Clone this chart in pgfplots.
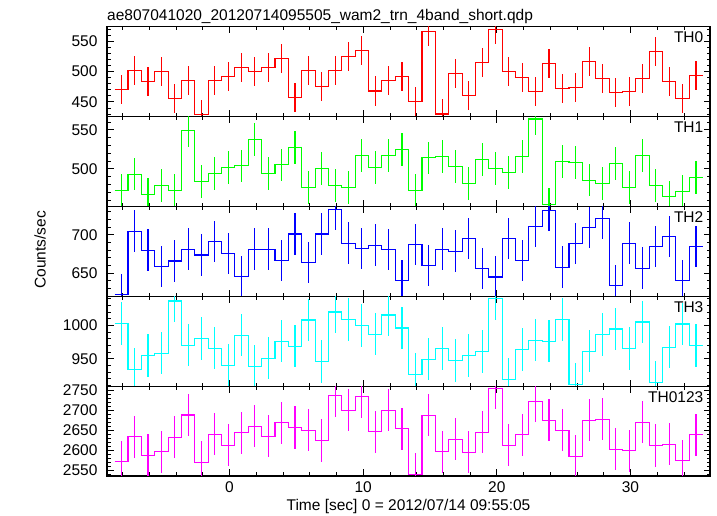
\documentclass[border=0pt]{standalone}
\usepackage{pgfplots}
\pgfplotsset{compat=1.18}
\usepackage{pgfplotstable}
\usepackage{fontspec}
\setmainfont{Liberation Sans}
\newcommand{\ff}{\fontsize{15.5}{18}\selectfont}
\definecolor{cR}{rgb}{1,0,0}
\definecolor{cG}{rgb}{0,1,0}
\definecolor{cB}{rgb}{0,0,1}
\definecolor{cC}{rgb}{0,1,1}
\definecolor{cM}{rgb}{1,0,1}

% xl = left edge of 1-s bin; last row closes the final bin
\pgfplotstableread{
xl    th0    th1    th2    th3     th0123
-8.6  471.0  472.6  622.2  1002.5  2570.8
-7.6  502.0  493.2  704.8  933.5   2634.0
-6.6  483.0  467.0  680.0  954.5   2586.7
-5.6  499.5  478.6  658.7  958.5   2595.8
-4.6  455.7  472.6  665.7  1036.5  2632.5
-3.6  485.8  548.7  681.3  970.5   2688.3
-2.6  429.0  484.2  673.5  980.5   2570.0
-1.6  485.0  494.4  691.3  966.0   2640.0
-0.6  492.0  502.0  675.7  940.5   2612.5
0.4   507.0  503.8  645.7  985.5   2643.3
1.4   500.0  538.0  681.3  939.0   2660.0
2.4   507.0  494.4  681.3  951.0   2635.0
3.4   521.0  505.0  666.0  976.5   2669.0
4.4   457.0  527.8  700.9  969.0   2656.7
5.4   502.0  476.5  663.5  1008.0  2650.0
6.4   476.0  500.0  700.9  945.5   2624.0
7.4   502.0  479.0  733.5  1020.0  2736.7
8.4   525.0  476.5  689.0  1008.5  2700.0
9.4   535.0  517.5  682.2  999.5   2735.0
10.4  468.0  502.0  686.5  987.0   2645.8
11.4  484.7  516.7  680.9  1015.5  2700.0
12.4  492.0  524.4  640.4  996.0   2654.0
13.4  450.8  472.2  687.4  927.0   2539.2
14.4  566.0  514.0  659.6  949.5   2687.5
15.4  430.0  516.2  681.3  965.0   2595.8
16.4  496.7  502.6  678.7  947.0   2627.5
17.4  460.7  481.6  695.2  955.0   2595.0
18.4  514.8  512.4  655.7  961.0   2645.0
19.4  569.4  500.9  644.8  1040.0  2755.8
20.4  499.5  495.7  695.2  919.0   2612.5
21.4  490.7  515.4  666.0  964.0   2639.0
22.4  467.8  564.0  711.3  978.0   2723.3
23.4  512.6  454.7  731.7  976.5   2675.0
24.4  472.0  509.4  657.8  1009.0  2650.0
25.4  474.0  508.0  688.3  912.0   2585.0
26.4  517.0  485.5  709.6  961.5   2675.0
27.4  489.0  480.8  720.9  986.5   2677.5
28.4  465.0  506.4  633.9  994.5   2602.5
29.4  466.7  476.5  689.0  965.0   2598.3
30.4  489.0  516.7  656.5  1005.0  2670.0
31.4  532.8  479.0  684.8  914.0   2611.7
32.4  484.0  464.0  697.4  967.5   2615.0
33.4  456.0  471.4  640.0  1002.0  2573.3
34.4  494.0  488.5  684.3  969.5   2638.3
35.4  494.0  488.5  684.3  969.5   2638.3
}\lc

\pgfplotsset{
  panel/.style={
    scale only axis, width=603pt, height=89.84pt, anchor=south west,
    xmin=-9.17, xmax=35.95,
    xtick={0,10,20,30},
    minor xtick={-8,-6,-4,-2,2,4,6,8,12,14,16,18,22,24,26,28,32,34},
    tick align=inside, tick pos=both,
    major tick length=6.5pt, minor tick length=3.5pt,
    every tick/.style={black, line width=0.8pt},
    axis line style={black, line width=1.1pt},
    ticklabel style={font=\ff},
    /pgf/number format/assume math mode=true,
    /pgf/number format/set thousands separator={},
    yticklabel pos=left, xticklabel pos=lower,
    yticklabel style={xshift=-6pt},
    xticklabel style={yshift=-2pt},
  },
  stepline/.style={const plot, line width=1.1pt, mark=none, draw=#1},
  errs/.style 2 args={draw=none, mark=none,
    skip coords between index={44}{45},
    error bars/.cd, y dir=both, y fixed=#2, error mark=none,
    error bar style={draw=#1, solid, line width=1.1pt}},
}

\begin{document}
\begin{tikzpicture}
\useasboundingbox (0,0) rectangle (717pt,516pt);

% TH0
\begin{axis}[panel, at={(107pt,399.36pt)}, ymin=425.7, ymax=573.8,
  ytick={450,500,550}, minor ytick={430,440,460,470,480,490,510,520,530,540,560,570},
  xticklabels={}]
\addplot[stepline=cR] table[x=xl, y=th0] {\lc};
\addplot[errs={cR}{24}] table[x expr=\thisrow{xl}+0.5, y=th0] {\lc};
\node[anchor=north east, inner sep=0pt, font=\ff, xshift=-6.5pt, yshift=-5pt] at (rel axis cs:1,1) {TH0};
\end{axis}

% TH1
\begin{axis}[panel, at={(107pt,309.52pt)}, ymin=451.7, ymax=567,
  ytick={500,550}, minor ytick={460,470,480,490,510,520,530,540,560},
  xticklabels={}]
\addplot[stepline=cG] table[x=xl, y=th1] {\lc};
\addplot[errs={cG}{21}] table[x expr=\thisrow{xl}+0.5, y=th1] {\lc};
\node[anchor=north east, inner sep=0pt, font=\ff, xshift=-6.5pt, yshift=-5pt] at (rel axis cs:1,1) {TH1};
\end{axis}

% TH2
\begin{axis}[panel, at={(107pt,219.68pt)}, ymin=619.6, ymax=736.9,
  ytick={650,700}, minor ytick={620,630,640,660,670,680,690,710,720,730},
  xticklabels={}]
\addplot[stepline=cB] table[x=xl, y=th2] {\lc};
\addplot[errs={cB}{27}] table[x expr=\thisrow{xl}+0.5, y=th2] {\lc};
\node[anchor=north east, inner sep=0pt, font=\ff, xshift=-6.5pt, yshift=-5pt] at (rel axis cs:1,1) {TH2};
\end{axis}

% TH3
\begin{axis}[panel, at={(107pt,129.84pt)}, ymin=909, ymax=1043.5,
  ytick={950,1000}, minor ytick={910,920,930,940,960,970,980,990,1010,1020,1030,1040},
  xticklabels={}]
\addplot[stepline=cC] table[x=xl, y=th3] {\lc};
\addplot[errs={cC}{32}] table[x expr=\thisrow{xl}+0.5, y=th3] {\lc};
\node[anchor=north east, inner sep=0pt, font=\ff, xshift=-6.5pt, yshift=-5pt] at (rel axis cs:1,1) {TH3};
\end{axis}

% TH0123
\begin{axis}[panel, at={(107pt,40pt)}, ymin=2535, ymax=2760.8,
  ytick={2550,2600,2650,2700,2750},
  minor ytick={2540,2560,2570,2580,2590,2610,2620,2630,2640,2660,2670,2680,2690,2710,2720,2730,2740,2760}]
\addplot[stepline=cM] table[x=xl, y=th0123] {\lc};
\addplot[errs={cM}{53}] table[x expr=\thisrow{xl}+0.5, y=th0123] {\lc};
\node[anchor=north east, inner sep=0pt, font=\ff, xshift=-6.5pt, yshift=-5pt] at (rel axis cs:1,1) {TH0123};
\end{axis}

\node[anchor=base west, inner sep=0pt, font=\ff] at (107pt,495pt) {ae807041020\_20120714095505\_wam2\_trn\_4band\_short.qdp};
\node[anchor=base, inner sep=0pt, font=\ff] at (408.5pt,5pt) {Time [sec] 0 = 2012/07/14 09:55:05};
\node[rotate=90, inner sep=0pt, font=\ff] at (40pt,266pt) {Counts/sec};
\end{tikzpicture}
\end{document}
